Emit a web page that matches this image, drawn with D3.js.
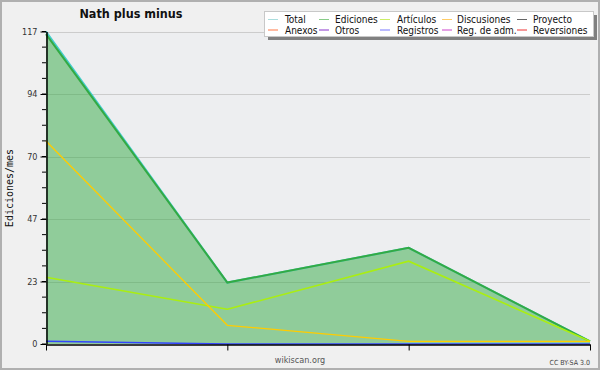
<!DOCTYPE html>
<html>
<head>
<meta charset="utf-8">
<script src="https://cdn.jsdelivr.net/npm/d3@7"></script>
<style>
  body { margin: 0; background: #f0f0f0; }
  svg text { font-family: "DejaVu Sans Condensed", "DejaVu Sans", sans-serif; font-stretch: condensed; }
</style>
</head>
<body>
<div id="chart"></div>
<script>
// months shown on the x axis (no labels in the original)
var months = ["1", "2", "3", "4"];

// series values, edits per month
var total = [117, 23, 36, 1];
var ediciones = [116, 23, 36, 1];
var articulos = [25, 13, 31, 1];
var discusiones = [76, 7, 1, 1];
var registros = [1, 0, 0, 0];

// legend entries
var legendNames = ["Total", "Ediciones", "Artículos", "Discusiones", "Proyecto",
                   "Anexos", "Otros", "Registros", "Reg. de adm.", "Reversiones"];
var legendColors = ["#aadddd", "#88cc88", "#ccee66", "#ffcc66", "#666666",
                    "#ff7744", "#8833cc", "#7777ff", "#cc44cc", "#ee3333"];

var yMax = 117;

var width = 600, height = 370;
var plot = { left: 46, right: 590, top: 31.5, bottom: 344 };

var svg = d3.select("#chart")
    .append("svg")
    .attr("width", width)
    .attr("height", height);

// background and border
svg.append("rect")
    .attr("x", 1).attr("y", 1)
    .attr("width", width - 2).attr("height", height - 2)
    .attr("fill", "#f0f0f0")
    .attr("stroke", "#b0b0b0")
    .attr("stroke-width", 2);

svg.append("rect")
    .attr("x", plot.left).attr("y", plot.top)
    .attr("width", plot.right - plot.left).attr("height", plot.bottom - plot.top)
    .attr("fill", "#edeef0");

var xScale = d3.scalePoint()
    .domain(months)
    .range([plot.left, plot.right]);

var yScale = d3.scaleLinear()
    .domain([0, yMax])
    .range([plot.bottom, plot.top]);

var majorTicks = d3.range(0, 6).map(function (k) { return yMax * k / 5; });
var minorTicks = d3.range(0, 21).map(function (k) { return yMax * k / 20; });

// grid lines
svg.append("g")
    .selectAll("line")
    .data(majorTicks.slice(1))
    .enter()
    .append("line")
    .attr("x1", plot.left).attr("x2", plot.right)
    .attr("y1", function (d) { return Math.round(yScale(d)) + 0.5; })
    .attr("y2", function (d) { return Math.round(yScale(d)) + 0.5; })
    .attr("stroke", "#cccccc")
    .attr("stroke-width", 1);

// area under Ediciones
var area = d3.area()
    .x(function (d, i) { return xScale(months[i]); })
    .y0(yScale(0))
    .y1(function (d) { return yScale(d); });

svg.append("path")
    .datum(ediciones)
    .attr("d", area)
    .attr("fill", "rgba(51,170,68,0.5)");

var line = d3.line()
    .x(function (d, i) { return xScale(months[i]); })
    .y(function (d) { return yScale(d); });

var series = [
    { values: total, color: "#44cccc", width: 2 },
    { values: ediciones, color: "#33aa44", width: 2 },
    { values: articulos, color: "#aaee11", width: 1.6 },
    { values: discusiones, color: "#ffcc00", width: 1.3 },
    { values: registros, color: "#3344ff", width: 1.5 }
];

svg.append("g")
    .selectAll("path")
    .data(series)
    .enter()
    .append("path")
    .attr("d", function (d) { return line(d.values); })
    .attr("fill", "none")
    .attr("stroke", function (d) { return d.color; })
    .attr("stroke-width", function (d) { return d.width; });

// y axis
var yAxis = d3.axisLeft(yScale)
    .tickValues(majorTicks)
    .tickFormat(function (d) { return Math.round(d); })
    .tickSize(6)
    .tickSizeOuter(0);

var gy = svg.append("g")
    .attr("transform", "translate(" + (plot.left + 0.5) + ",0)")
    .call(yAxis);
gy.selectAll("text")
    .attr("fill", "#333")
    .style("font-size", "9px");
gy.select(".domain").attr("stroke-width", 1.5);

svg.append("g")
    .selectAll("line")
    .data(minorTicks)
    .enter()
    .append("line")
    .attr("x1", plot.left - 4).attr("x2", plot.left)
    .attr("y1", function (d) { return yScale(d); })
    .attr("y2", function (d) { return yScale(d); })
    .attr("stroke", "#000");

// x axis
var xAxis = d3.axisBottom(xScale)
    .tickFormat("")
    .tickSize(6)
    .tickSizeOuter(0);

var gx = svg.append("g")
    .attr("transform", "translate(0," + (plot.bottom + 0.5) + ")")
    .call(xAxis);
gx.select(".domain").attr("stroke-width", 1.5);

// title
svg.append("text")
    .attr("x", 131).attr("y", 18)
    .attr("text-anchor", "middle")
    .style("font-size", "12.5px")
    .style("font-weight", "bold")
    .attr("fill", "#111")
    .text("Nath plus minus");

// y label
svg.append("text")
    .attr("transform", "translate(13," + 188 + ") rotate(-90)")
    .attr("text-anchor", "middle")
    .style("font-family", "'DejaVu Sans Mono', monospace")
    .style("font-stretch", "normal")
    .style("font-size", "10px")
    .attr("fill", "#111")
    .text("Ediciones/mes");

// footer texts
svg.append("text")
    .attr("x", 300).attr("y", 363)
    .attr("text-anchor", "middle")
    .style("font-size", "9px")
    .attr("fill", "#555")
    .text("wikiscan.org");

svg.append("text")
    .attr("x", 590).attr("y", 365)
    .attr("text-anchor", "end")
    .style("font-size", "7px")
    .attr("fill", "#444")
    .text("CC BY-SA 3.0");

// legend
var legend = { x: 264, y: 11, w: 329, h: 25 };
svg.append("rect")
    .attr("x", legend.x + 4).attr("y", legend.y + 4)
    .attr("width", legend.w).attr("height", legend.h)
    .attr("fill", "#808080");
svg.append("rect")
    .attr("x", legend.x + 0.5).attr("y", legend.y + 0.5)
    .attr("width", legend.w).attr("height", legend.h)
    .attr("fill", "#fff")
    .attr("stroke", "#c8c8c8");

var colX = [268, 319, 380, 442, 517];
var textX = [285, 335, 397, 457, 533];
var rowY = [19.5, 30];

var items = svg.append("g")
    .selectAll("g")
    .data(legendNames)
    .enter()
    .append("g");

items.append("line")
    .attr("x1", function (d, i) { return colX[i % 5]; })
    .attr("x2", function (d, i) { return colX[i % 5] + 10; })
    .attr("y1", function (d, i) { return rowY[Math.floor(i / 5)]; })
    .attr("y2", function (d, i) { return rowY[Math.floor(i / 5)]; })
    .attr("stroke", function (d, i) { return legendColors[i]; })
    .attr("stroke-width", 1);

items.append("text")
    .attr("x", function (d, i) { return textX[i % 5]; })
    .attr("y", function (d, i) { return rowY[Math.floor(i / 5)] + 3.5; })
    .style("font-size", "10px")
    .attr("fill", "#111")
    .text(function (d) { return d; });
</script>
</body>
</html>
